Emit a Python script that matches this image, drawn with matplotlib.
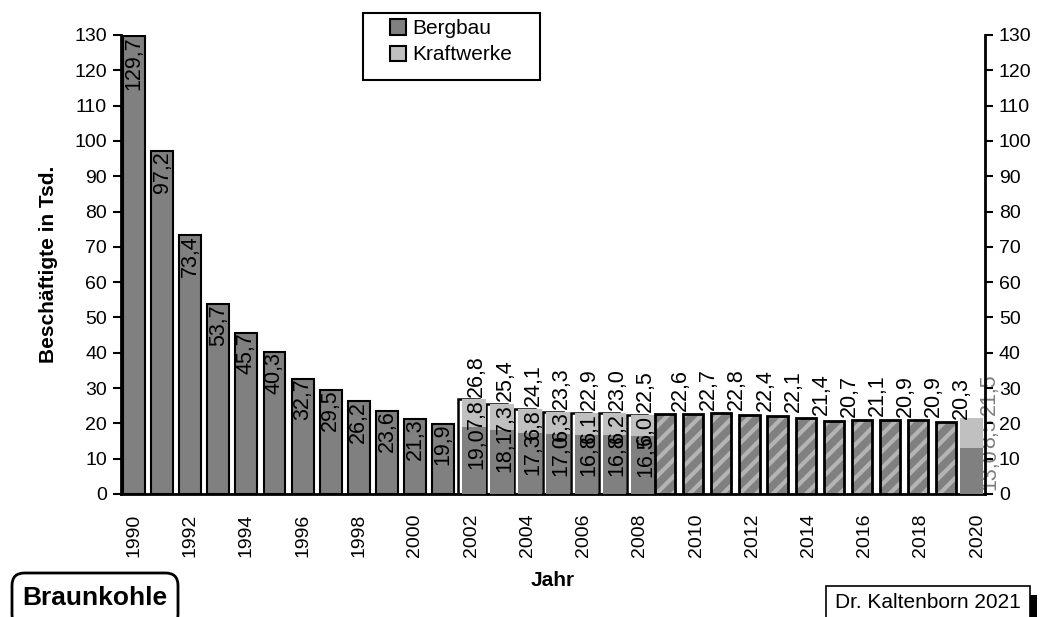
import matplotlib
matplotlib.use("Agg")
import matplotlib.pyplot as plt
from matplotlib.patches import FancyBboxPatch, Rectangle, Patch
import numpy as np

plt.rcParams['font.family'] = ['Liberation Sans', 'DejaVu Sans']
plt.rcParams['hatch.linewidth'] = 3.0

# ---- data ----
years_early = [1990, 1991, 1992, 1993, 1994, 1995, 1996, 1997, 1998, 1999, 2000, 2001]
bergbau_early = [129.7, 97.2, 73.4, 53.7, 45.7, 40.3, 32.7, 29.5, 26.2, 23.6, 21.3, 19.9]

years_mid = [2002, 2003, 2004, 2005, 2006, 2007, 2008]
bergbau_mid = [19.0, 18.1, 17.3, 17.0, 16.8, 16.8, 16.5]
kraftwerke_mid = [7.8, 7.3, 6.8, 6.3, 6.1, 6.2, 6.0]
total_mid = [26.8, 25.4, 24.1, 23.3, 22.9, 23.0, 22.5]

years_late = [2009, 2010, 2011, 2012, 2013, 2014, 2015, 2016, 2017, 2018, 2019]
total_late = [22.6, 22.7, 22.8, 22.4, 22.1, 21.4, 20.7, 21.1, 20.9, 20.9, 20.3]

years_last = [2020]
bergbau_last = [13.0]
kraftwerke_last = [8.5]
total_last = [21.5]

tick_years = list(range(1990, 2021, 2))
y_ticks = list(range(0, 131, 10))

def fmt(v):
    return f"{v:.1f}".replace(".", ",")

DARK = "#808080"
LIGHT = "#c0c0c0"
STRIPE = "#b4b4b4"

W, H = 1041, 617
fig = plt.figure(figsize=(W/100, H/100), dpi=100)
ax = fig.add_axes([121/W, 1-494/H, (985-121)/W, (494-35)/H])

LFS = 15.5

# early bars
ax.bar(years_early, bergbau_early, width=0.78, color=DARK, edgecolor="black", linewidth=1.5, zorder=3)
for x, v in zip(years_early, bergbau_early):
    ax.text(x, v, fmt(v), rotation=90, ha="center", va="top", fontsize=LFS, zorder=6)

# mid: hidden total outline bars + stacked
ym = np.array(years_mid, dtype=float)
ax.bar(ym - 0.1, total_mid, width=0.72, facecolor="white", edgecolor="black", linewidth=1.8, zorder=2)
ax.bar(ym + 0.1, bergbau_mid, width=0.85, color=DARK, linewidth=0, zorder=3)
ax.bar(ym + 0.1, kraftwerke_mid, bottom=bergbau_mid, width=0.85, color=LIGHT, linewidth=0, zorder=3)
for x, b, k, t in zip(ym, bergbau_mid, kraftwerke_mid, total_mid):
    ax.text(x + 0.2, b, fmt(b), rotation=90, ha="center", va="top", fontsize=LFS, zorder=6)
    ax.text(x + 0.2, t, fmt(k), rotation=90, ha="center", va="top", fontsize=LFS, zorder=6)
    ax.text(x + 0.2, t + 0.8, fmt(t), rotation=90, ha="center", va="bottom", fontsize=LFS, zorder=6)

# late hatched bars
yl = np.array(years_late, dtype=float)
ax.bar(yl - 0.1, total_late, width=0.72, facecolor=DARK, edgecolor=STRIPE, hatch="//", linewidth=0, zorder=3)
ax.bar(yl - 0.1, total_late, width=0.72, facecolor="none", edgecolor="black", linewidth=2.0, zorder=4)
for x, t in zip(yl, total_late):
    ax.text(x + 0.45, t + 1.0, fmt(t), rotation=90, ha="center", va="bottom", fontsize=LFS, zorder=6)

# last stacked bar
yz = np.array(years_last, dtype=float)
ax.bar(yz - 0.2, bergbau_last, width=0.82, color=DARK, linewidth=0, zorder=3)
ax.bar(yz - 0.2, kraftwerke_last, bottom=bergbau_last, width=0.82, color=LIGHT, linewidth=0, zorder=3)
for x, b, k, t in zip(yz, bergbau_last, kraftwerke_last, total_last):
    ax.text(x + 0.45, b, fmt(b), rotation=90, ha="center", va="top", fontsize=LFS, zorder=1, clip_on=False, alpha=0.5)
    ax.text(x + 0.45, t, fmt(k), rotation=90, ha="center", va="top", fontsize=LFS, zorder=1, clip_on=False, alpha=0.5)
    ax.text(x + 0.45, t + 0.8, fmt(t), rotation=90, ha="center", va="bottom", fontsize=LFS, zorder=1, clip_on=False, alpha=0.5)

ax.set_xlim(1989.54, 2020.28)
ax.set_ylim(0, 130)
ax.set_yticks(y_ticks)
ax.set_yticklabels([str(v) for v in y_ticks], fontsize=14)
ax.set_xticks(tick_years)
ax.set_xticklabels([str(v) for v in tick_years], rotation=90, fontsize=14)
ax.tick_params(axis="y", which="both", direction="out", length=6, width=1.5, right=True, labelright=True, pad=4)
ax.tick_params(axis="x", length=0, pad=14)

for s in ["left", "right", "bottom"]:
    ax.spines[s].set_linewidth(2)
    ax.spines[s].set_color("black")
ax.spines["top"].set_visible(False)

ax.set_ylabel("Beschäftigte in Tsd.", fontsize=15, fontweight="bold", labelpad=12)
ax.set_xlabel("Jahr", fontsize=15, fontweight="bold", labelpad=10)

# legend with manual frame
fig.patches.append(Rectangle((363/W, 1-80/H), (540-363)/W, (80-13)/H, transform=fig.transFigure,
                             facecolor="white", edgecolor="black", linewidth=1.5, zorder=9))
handles = [Patch(facecolor=DARK, edgecolor="black", linewidth=1.5, label="Bergbau"),
           Patch(facecolor=LIGHT, edgecolor="black", linewidth=1.5, label="Kraftwerke")]
leg = fig.legend(handles=handles, loc="upper left", bbox_to_anchor=(386/W, 1-15/H),
                 fontsize=15, frameon=False,
                 handlelength=0.75, handleheight=0.75, handletextpad=0.3,
                 borderpad=0.2, labelspacing=0.35, borderaxespad=0)
leg.set_zorder(10)

# Braunkohle box
fig.patches.append(FancyBboxPatch((12/W, -10/H), (178-12)/W, (617+10-573)/H, transform=fig.transFigure,
                                  boxstyle="round,pad=0,rounding_size=0.012", facecolor="white",
                                  edgecolor="black", linewidth=2, mutation_aspect=W/H))
fig.text(95/W, 1-598/H, "Braunkohle", fontsize=19, fontweight="bold", ha="center", va="center")

# Copyright box with shadow
fig.patches.append(Rectangle((1030/W, 0), 7/W, (617-595)/H, transform=fig.transFigure,
                             facecolor="black", edgecolor="none"))
fig.patches.append(Rectangle((826/W, -5/H), (1030-826)/W, (617+5-586)/H, transform=fig.transFigure,
                             facecolor="white", edgecolor="black", linewidth=1.2))
fig.text(928/W, 1-602/H, "Dr. Kaltenborn 2021", fontsize=15, ha="center", va="center")

fig.savefig("out.png", dpi=100)
